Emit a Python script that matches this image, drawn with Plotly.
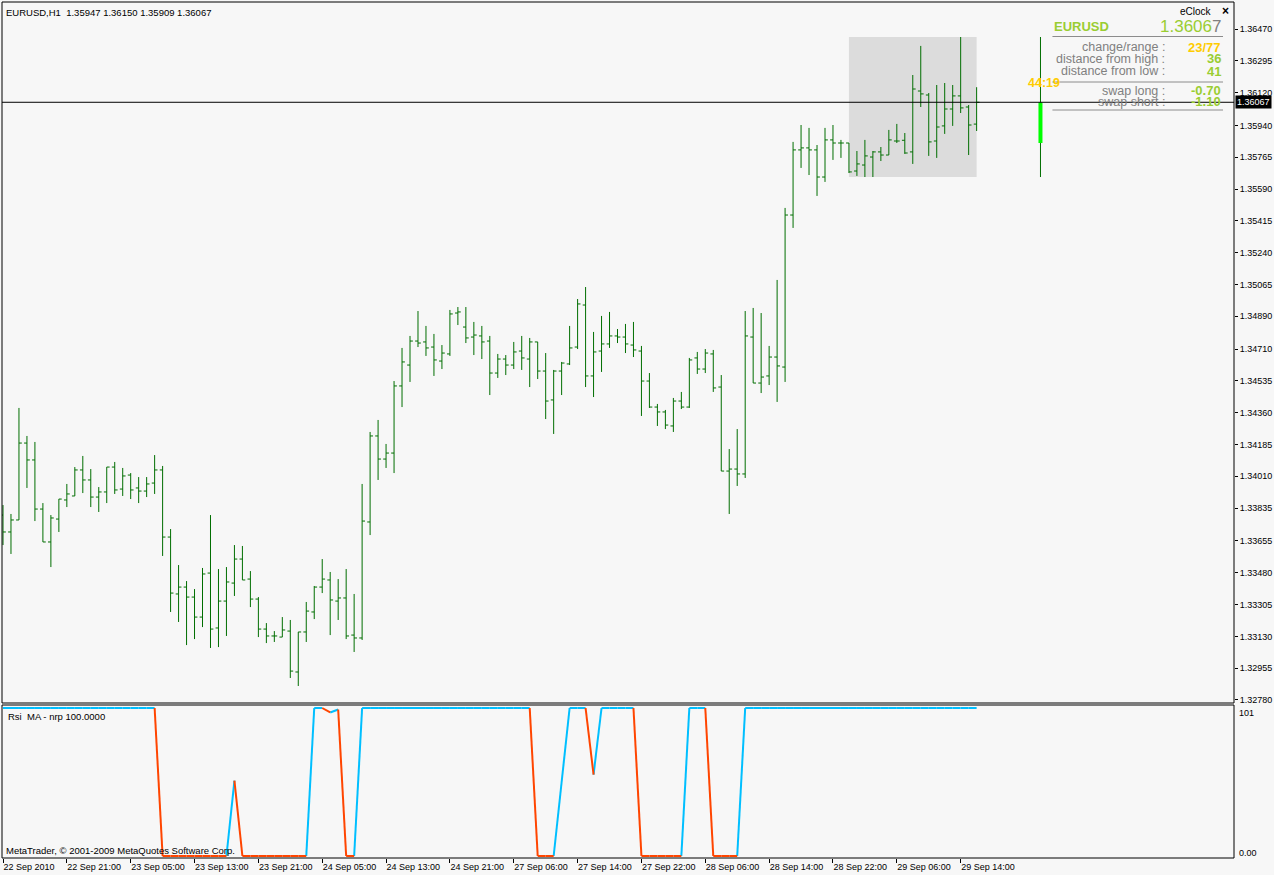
import plotly.graph_objects as go

# ---------------- data ----------------
bar_open = [1.33797,1.33704,1.33770,1.34193,1.34100,1.33830,1.33649,1.33775,1.33880,1.33902,
            1.34045,1.33990,1.33896,1.33924,1.34061,1.33940,1.34017,1.33946,1.33929,1.33973,
            1.34045,1.33676,1.33363,1.33401,1.33346,1.33236,1.33478,1.33176,1.33324,1.33423,
            1.33555,1.33445,1.33335,1.33170,1.33132,1.33126,1.33159,1.32934,1.33154,1.33264,
            1.33401,1.33440,1.33324,1.33341,1.33137,1.33121,1.33759,1.34232,1.34105,1.34138,
            1.34507,1.34622,1.34754,1.34749,1.34721,1.34644,1.34683,1.34908,1.34831,1.34776,
            1.34782,1.34754,1.34578,1.34655,1.34622,1.34699,1.34655,1.34749,1.34589,1.34430,
            1.34589,1.34628,1.34721,1.34952,1.34562,1.34699,1.34738,1.34782,1.34776,1.34732,
            1.34699,1.34534,1.34391,1.34364,1.34287,1.34424,1.34391,1.34661,1.34600,1.34683,
            1.34501,1.34039,1.34050,1.34023,1.34776,1.34523,1.34562,1.34666,1.34611,1.35447,
            1.35805,1.35816,1.35805,1.35656,1.35860,1.35843,1.35843,1.35689,1.35722,1.35766,
            1.35794,1.35777,1.35854,1.35858,1.35794,1.36129,1.36107,1.35854,1.35937,1.36030,
            1.36102,1.36041,1.35947]
bar_high = [1.33852,1.33803,1.34386,1.34232,1.34199,1.33863,1.33797,1.33885,1.33968,1.34061,
            1.34122,1.34050,1.33951,1.34061,1.34089,1.34056,1.34028,1.34006,1.34006,1.34127,
            1.34067,1.33720,1.33522,1.33434,1.33390,1.33506,1.33797,1.33500,1.33511,1.33632,
            1.33627,1.33489,1.33346,1.33203,1.33159,1.33236,1.33220,1.33154,1.33319,1.33407,
            1.33555,1.33484,1.33445,1.33500,1.33363,1.33968,1.34254,1.34320,1.34188,1.34534,
            1.34716,1.34782,1.34919,1.34837,1.34793,1.34732,1.34925,1.34941,1.34941,1.34859,
            1.34837,1.34782,1.34683,1.34677,1.34749,1.34782,1.34771,1.34749,1.34688,1.34595,
            1.34639,1.34837,1.34985,1.35051,1.34804,1.34892,1.34914,1.34820,1.34848,1.34859,
            1.34727,1.34578,1.34408,1.34375,1.34441,1.34474,1.34661,1.34694,1.34710,1.34705,
            1.34567,1.34160,1.34270,1.34919,1.34936,1.34908,1.34727,1.35090,1.35486,1.35849,
            1.35942,1.35926,1.35832,1.35926,1.35942,1.35860,1.35843,1.35799,1.35860,1.35799,
            1.35821,1.35915,1.35948,1.35898,1.36217,1.36377,1.36118,1.36162,1.36173,1.36162,
            1.36426,1.36052,1.36150]
bar_low = [1.33632,1.33583,1.33770,1.33946,1.33764,1.33649,1.33511,1.33704,1.33841,1.33902,
           1.33918,1.33841,1.33814,1.33863,1.33913,1.33902,1.33885,1.33863,1.33896,1.33913,
           1.33572,1.33264,1.33209,1.33082,1.33115,1.33181,1.33066,1.33071,1.33132,1.33352,
           1.33440,1.33291,1.33126,1.33093,1.33099,1.33126,1.32901,1.32857,1.33099,1.33225,
           1.33368,1.33137,1.33220,1.33115,1.33044,1.33110,1.33687,1.33990,1.34056,1.34028,
           1.34391,1.34529,1.34721,1.34672,1.34562,1.34600,1.34672,1.34842,1.34743,1.34677,
           1.34655,1.34457,1.34551,1.34567,1.34600,1.34595,1.34501,1.34545,1.34325,1.34243,
           1.34457,1.34622,1.34710,1.34501,1.34446,1.34584,1.34716,1.34743,1.34688,1.34666,
           1.34342,1.34386,1.34287,1.34270,1.34254,1.34380,1.34386,1.34573,1.34578,1.34474,
           1.34039,1.33803,1.33957,1.34001,1.34523,1.34468,1.34512,1.34419,1.34529,1.35376,
           1.35706,1.35667,1.35552,1.35629,1.35750,1.35761,1.35678,1.35662,1.35656,1.35656,
           1.35744,1.35777,1.35843,1.35783,1.35728,1.36041,1.35772,1.35761,1.35893,1.35937,
           1.36008,1.35777,1.35909]
bar_close = [1.33704,1.33770,1.34193,1.34100,1.33830,1.33649,1.33781,1.33885,1.33913,1.34045,
             1.33990,1.33896,1.33924,1.34061,1.33935,1.34012,1.33935,1.33929,1.33968,1.34045,
             1.33676,1.33368,1.33401,1.33346,1.33236,1.33473,1.33170,1.33324,1.33429,1.33555,
             1.33440,1.33335,1.33170,1.33132,1.33132,1.33165,1.32939,1.33154,1.33269,1.33401,
             1.33445,1.33330,1.33341,1.33132,1.33121,1.33764,1.34232,1.34105,1.34138,1.34507,
             1.34639,1.34754,1.34743,1.34716,1.34650,1.34688,1.34903,1.34914,1.34771,1.34787,
             1.34749,1.34578,1.34655,1.34622,1.34694,1.34661,1.34749,1.34589,1.34424,1.34589,
             1.34633,1.34716,1.34958,1.34562,1.34694,1.34738,1.34782,1.34776,1.34738,1.34705,
             1.34534,1.34391,1.34364,1.34292,1.34424,1.34391,1.34650,1.34600,1.34688,1.34496,
             1.34039,1.34050,1.34023,1.34782,1.34523,1.34556,1.34666,1.34617,1.35447,1.35805,
             1.35816,1.35805,1.35656,1.35860,1.35843,1.35843,1.35684,1.35728,1.35772,1.35794,
             1.35777,1.35860,1.35854,1.35788,1.36140,1.36113,1.35849,1.35931,1.36030,1.36102,
             1.36036,1.35942,1.36067]

rsi_ma = [100]*20 + [0]*9 + [51] + [0]*9 + [100, 100, 97, 99, 0, 0] + [100]*22 + \
         [0, 0, 0, 50, 100, 100, 100, 55, 100, 100, 100, 100, 100] + [0]*6 + [100]*3 + [0]*4 + [100]*30

time_ticks = [0, 8, 16, 24, 32, 40, 48, 56, 64, 72, 80, 88, 96, 104, 112, 120]
time_labels = ["22 Sep 2010", "22 Sep 21:00", "23 Sep 05:00", "23 Sep 13:00", "23 Sep 21:00",
               "24 Sep 05:00", "24 Sep 13:00", "24 Sep 21:00", "27 Sep 06:00", "27 Sep 14:00",
               "27 Sep 22:00", "28 Sep 06:00", "28 Sep 14:00", "28 Sep 22:00", "29 Sep 06:00",
               "29 Sep 14:00"]
price_labels = ["1.36470", "1.36295", "1.36120", "1.35940", "1.35765", "1.35590", "1.35415",
                "1.35240", "1.35065", "1.34890", "1.34710", "1.34535", "1.34360", "1.34185",
                "1.34010", "1.33835", "1.33655", "1.33480", "1.33305", "1.33130", "1.32955",
                "1.32780"]

day_start = 106          # first bar of 29 Sep
clock_bar = 130          # position of eClock daily candle

# ---------------- geometry ----------------
W, H = 1274, 875
ML, MR, MT, MB = 2, 37, 2, 17
PW, PH = W - ML - MR, H - MT - MB
BG = "#F7F7F7"
FONT = "Liberation Sans, Arial, sans-serif"
BAR = "#006E00"


def px(x):
    return (x - ML) / PW


def py(y):
    return (H - MB - y) / PH


idx = list(range(len(bar_open)))
day_high = max(bar_high[day_start:])
day_low = min(bar_low[day_start:])
day_open = bar_open[day_start]
last = bar_close[-1]

fig = go.Figure()

fig.add_trace(go.Ohlc(
    x=idx, open=bar_open, high=bar_high, low=bar_low, close=bar_close,
    increasing=dict(line=dict(color=BAR, width=1)),
    decreasing=dict(line=dict(color=BAR, width=1)),
    tickwidth=0.36, xaxis="x", yaxis="y", showlegend=False, hoverinfo="skip"))

# eClock daily candle
fig.add_trace(go.Scatter(x=[clock_bar, clock_bar], y=[day_low, day_high], mode="lines",
                         line=dict(color=BAR, width=1), xaxis="x", yaxis="y",
                         showlegend=False, hoverinfo="skip"))
fig.add_trace(go.Scatter(x=[clock_bar, clock_bar], y=[day_open, last], mode="lines",
                         line=dict(color="#00FF00", width=4), xaxis="x", yaxis="y",
                         showlegend=False, hoverinfo="skip"))

# indicator: blue when rising, red when falling
bx, byv, rx, ryv = [], [], [], []
col = "b"
for i in range(len(rsi_ma) - 1):
    a, b = rsi_ma[i], rsi_ma[i + 1]
    if b > a:
        col = "b"
    elif b < a:
        col = "r"
    if col == "b":
        bx += [i, i + 1, None]
        byv += [a, b, None]
    else:
        rx += [i, i + 1, None]
        ryv += [a, b, None]
fig.add_trace(go.Scatter(x=bx, y=byv, mode="lines", line=dict(color="#00BFFF", width=2),
                         xaxis="x2", yaxis="y2", showlegend=False, hoverinfo="skip"))
fig.add_trace(go.Scatter(x=rx, y=ryv, mode="lines", line=dict(color="#FF4500", width=2),
                         xaxis="x2", yaxis="y2", showlegend=False, hoverinfo="skip"))

xr = [-0.125, -0.125 + PW / 8.0]
main_dom = [py(703), 1.0]
ind_dom = [0.0, py(705)]
y_top = 1.36470 + 27 / 18184.0
y_bot = 1.36470 - 674 / 18184.0

shapes = [
    dict(type="rect", xref="x", yref="y", x0=day_start, x1=len(idx) - 1, y0=day_low, y1=day_high,
         fillcolor="#DCDCDC", line=dict(width=0), layer="below"),
    dict(type="line", xref="paper", yref="y", x0=0, x1=1, y0=last, y1=last,
         line=dict(color="black", width=1)),
    dict(type="rect", xref="paper", yref="paper", x0=0, x1=1, y0=main_dom[0], y1=1,
         line=dict(color="black", width=1)),
    dict(type="rect", xref="paper", yref="paper", x0=0, x1=1, y0=0, y1=ind_dom[1],
         line=dict(color="black", width=1)),
]
for yy in (36.5, 82, 110):
    shapes.append(dict(type="line", xref="paper", yref="paper", x0=px(1055), x1=px(1226),
                       y0=py(yy), y1=py(yy), line=dict(color="#8C8C8C", width=1)))

ann = []


def text(x, y, s, size=9.5, color="black", anchor="left", bold=False):
    if bold:
        s = "<b>" + s + "</b>"
    ann.append(dict(x=px(x), y=py(y), xref="paper", yref="paper", text=s, showarrow=False,
                    xanchor=anchor, yanchor="middle",
                    font=dict(family=FONT, size=size, color=color)))


text(4, 12, "EURUSD,H1\u00a0 1.35947 1.36150 1.35909 1.36067")
text(6, 716, "Rsi\u00a0 MA - nrp 100.0000")
text(4, 850, "MetaTrader, © 2001-2009 MetaQuotes Software Corp.")
text(1240, 713, "101", size=9)
text(1240, 853, "0.00", size=9)
# eClock panel
text(1217, 11.5, "eClock", size=10, anchor="right")
text(1228, 11, "×", size=12, anchor="center", bold=True)
text(1055, 26, "EURUSD", size=13, color="#9ACD32", bold=True)
ann.append(dict(x=px(1226), y=py(26), xref="paper", yref="paper", showarrow=False,
                xanchor="right", yanchor="middle",
                text="1.3606<span style='color:#808080'>7</span>",
                font=dict(family=FONT, size=17, color="#9ACD32")))
gray = "#808080"
text(1170, 47, "change/range :", size=12.5, color=gray, anchor="right")
text(1170, 59, "distance from high :", size=12.5, color=gray, anchor="right")
text(1170, 71, "distance from low :", size=12.5, color=gray, anchor="right")
text(1170, 91, "swap long :", size=12.5, color=gray, anchor="right")
text(1170, 102, "swap short :", size=12.5, color=gray, anchor="right")
text(1226, 47, "23/77", size=13, color="#FFCC00", anchor="right", bold=True)
text(1226, 59, "36", size=13, color="#9ACD32", anchor="right", bold=True)
text(1226, 71, "41", size=13, color="#9ACD32", anchor="right", bold=True)
text(1226, 91, "-0.70", size=13, color="#9ACD32", anchor="right", bold=True)
text(1226, 102, "-1.10", size=13, color="#9ACD32", anchor="right", bold=True)
text(1028, 83, "44:19", size=12.5, color="#FFCC00", bold=True)
# current price tag
ann.append(dict(x=1, xref="paper", y=last, yref="y", text="1.36067", showarrow=False,
                xanchor="left", yanchor="middle", xshift=1, bgcolor="black", borderpad=1,
                font=dict(family=FONT, size=9, color="white")))

fig.update_layout(
    width=W, height=H, margin=dict(l=ML, r=MR, t=MT, b=MB),
    paper_bgcolor=BG, plot_bgcolor=BG, showlegend=False,
    shapes=shapes, annotations=ann,
    xaxis=dict(domain=[0, 1], range=xr, anchor="y", showticklabels=False, showgrid=False,
               zeroline=False, ticks="", rangeslider=dict(visible=False), fixedrange=True),
    yaxis=dict(domain=main_dom, range=[y_bot, y_top], side="right", anchor="x",
               tickvals=[float(t) for t in price_labels], ticktext=price_labels,
               ticks="outside", ticklen=3, tickcolor="black", showgrid=False, zeroline=False,
               tickfont=dict(family=FONT, size=9, color="black")),
    xaxis2=dict(domain=[0, 1], range=xr, anchor="y2", tickvals=time_ticks, ticktext=time_labels,
                ticks="outside", ticklen=4, tickcolor="black", showgrid=False, zeroline=False,
                ticklabelposition="outside right",
                tickfont=dict(family=FONT, size=9, color="black")),
    yaxis2=dict(domain=ind_dom, range=[-1.35, 102.03], anchor="x2", showticklabels=False,
                showgrid=False, zeroline=False, ticks=""),
)

fig.write_html("out.html", config={"displayModeBar": False},
               post_script="document.body.style.margin='0';document.body.style.background='#F7F7F7';")
